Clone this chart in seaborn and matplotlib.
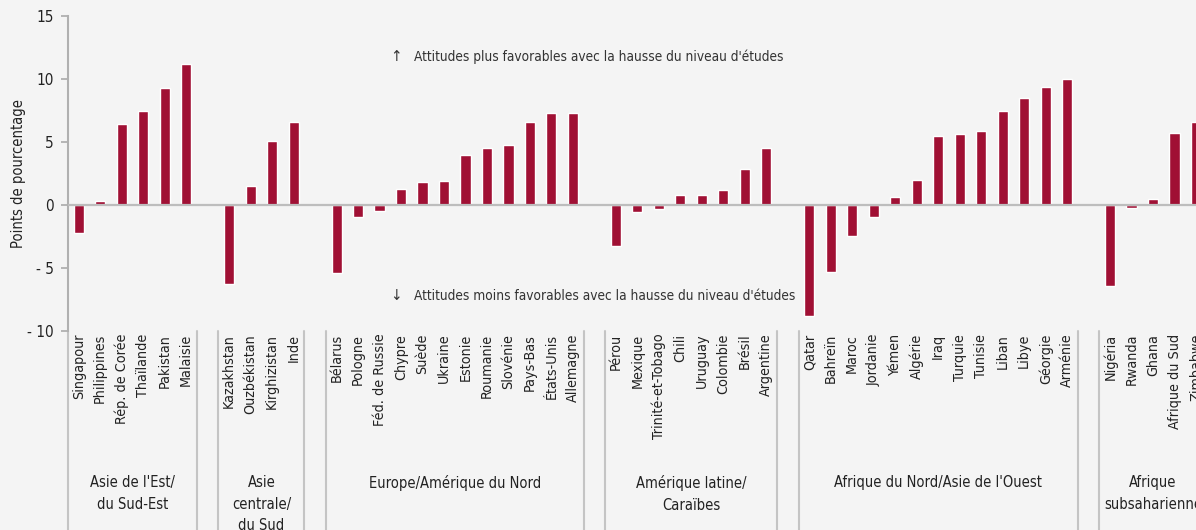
import numpy as np
import pandas as pd
import seaborn as sns
import matplotlib.pyplot as plt

# regions and countries, in plotting order
regions = ["Asie de l'Est/\ndu Sud-Est", "Asie\ncentrale/\ndu Sud", "Europe/Amérique du Nord",
           "Amérique latine/\nCaraïbes", "Afrique du Nord/Asie de l'Ouest", "Afrique\nsubsaharienne"]

east_asia = ["Singapour", "Philippines", "Rép. de Corée", "Thaïlande", "Pakistan", "Malaisie"]
east_asia_vals = [-2.25, 0.3, 6.45, 7.45, 9.3, 11.2]

central_asia = ["Kazakhstan", "Ouzbékistan", "Kirghizistan", "Inde"]
central_asia_vals = [-6.25, 1.5, 5.1, 6.6]

europe = ["Bélarus", "Pologne", "Féd. de Russie", "Chypre", "Suède", "Ukraine", "Estonie",
          "Roumanie", "Slovénie", "Pays-Bas", "États-Unis", "Allemagne"]
europe_vals = [-5.4, -0.95, -0.45, 1.27, 1.85, 1.9, 4.0, 4.55, 4.78, 6.6, 7.3, 7.3]

latam = ["Pérou", "Mexique", "Trinité-et-Tobago", "Chili", "Uruguay", "Colombie", "Brésil", "Argentine"]
latam_vals = [-3.25, -0.55, -0.3, 0.8, 0.8, 1.2, 2.87, 4.55]

mena = ["Qatar", "Bahreïn", "Maroc", "Jordanie", "Yémen", "Algérie", "Iraq", "Turquie",
        "Tunisie", "Liban", "Libye", "Géorgie", "Arménie"]
mena_vals = [-8.8, -5.33, -2.45, -0.95, 0.63, 2.0, 5.5, 5.65, 5.88, 7.47, 8.5, 9.38, 10.02]

ssa = ["Nigéria", "Rwanda", "Ghana", "Afrique du Sud", "Zimbabwe"]
ssa_vals = [-6.4, -0.25, 0.5, 5.72, 6.6]

groups = [(east_asia, east_asia_vals), (central_asia, central_asia_vals), (europe, europe_vals),
          (latam, latam_vals), (mena, mena_vals), (ssa, ssa_vals)]

# build slot positions: one empty slot between regions
rows = []
group_spans = []
pos = 0
for gi, (names, vals) in enumerate(groups):
    start = pos
    for n, v in zip(names, vals):
        rows.append({"pays": n, "valeur": v, "pos": pos, "region": regions[gi]})
        pos += 1
    group_spans.append((start, pos - 1))
    pos += 1
df = pd.DataFrame(rows)

sns.set_theme(style="white")
plt.rcParams['font.family'] = ['DejaVu Sans']
plt.rcParams['font.stretch'] = 'condensed'

bg = "#f4f4f4"
bar_color = "#a01034"
line_grey = "#c4c4c4"
txt = "#222222"

fig = plt.figure(figsize=(11.96, 5.30), dpi=100, facecolor=bg)
ax = fig.add_axes([68 / 1196, 1 - 331 / 530, 1 - 68 / 1196, (331 - 16) / 530])
ax.set_facecolor(bg)

sns.barplot(data=df, x="pos", y="valeur", native_scale=True, width=0.47,
            color=bar_color, saturation=1, ax=ax, zorder=2)

ax.axhline(0, color="#bdbdbd", lw=1.6, zorder=3)

ax.set_xlim(-0.5, df["pos"].max())
ax.set_ylim(-10, 15)
ax.set_yticks([-10, -5, 0, 5, 10, 15])
ax.set_yticklabels(["- 10", "- 5", "0", "5", "10", "15"], fontsize=11, color=txt)
ax.tick_params(axis="y", length=5, width=1.2, color="#aaaaaa", pad=5, left=True)
ax.set_ylabel("Points de pourcentage", fontsize=10.5, color=txt)
ax.yaxis.set_label_coords(-0.037, 0.5)

ax.set_xticks(df["pos"])
ax.set_xticklabels(df["pays"], rotation=90, fontsize=10.3, color=txt, va="top", ha="center")
ax.tick_params(axis="x", length=0, pad=2)
ax.set_xlabel("")

for s in ["top", "right", "bottom"]:
    ax.spines[s].set_visible(False)
ax.spines["left"].set_color("#b0b0b0")
ax.spines["left"].set_linewidth(1.5)

# separators and region labels below the axis
trans = ax.get_xaxis_transform()
for start, end in group_spans:
    for x in (start - 0.5, end + 0.5):
        ax.plot([x, x], [0, -0.64], transform=trans, color=line_grey, lw=1.5, clip_on=False)
for (start, end), name in zip(group_spans, regions):
    ax.text((start + end) / 2, -0.458, name, transform=trans, ha="center", va="top",
            fontsize=10.5, color=txt, linespacing=1.55, clip_on=False)

# annotations
ax.text(14.76, 11.75, "↑", ha="center", va="center", fontsize=11, color="#333333")
ax.text(15.6, 11.75, "Attitudes plus favorables avec la hausse du niveau d'études",
        ha="left", va="center", fontsize=9.8, color="#333333")
ax.text(14.76, -7.2, "↓", ha="center", va="center", fontsize=11, color="#333333")
ax.text(15.6, -7.2, "Attitudes moins favorables avec la hausse du niveau d'études",
        ha="left", va="center", fontsize=9.8, color="#333333")

fig.savefig("out.png", dpi=100, facecolor=bg)
